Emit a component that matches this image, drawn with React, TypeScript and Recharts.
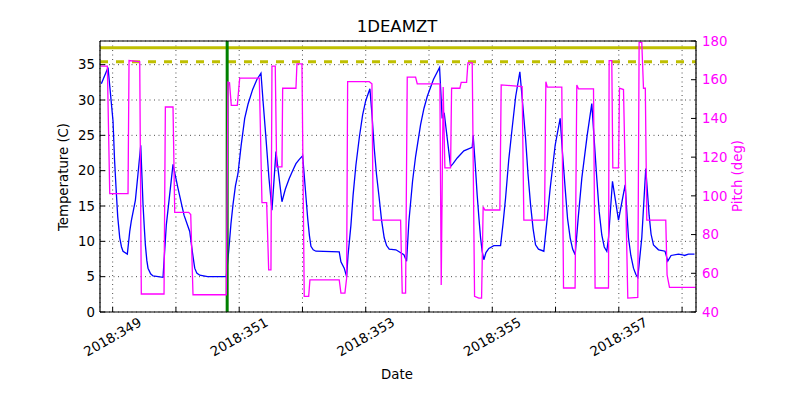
import {
  CartesianGrid,
  ComposedChart,
  Line,
  ReferenceLine,
  XAxis,
  YAxis,
} from "recharts";

// Temperature trace (day of year 2018, deg C).
const TEMP_DAY = [
  348.821, 348.927, 349.006, 349.03, 349.054, 349.08, 349.112, 349.14, 349.164, 349.232,
  349.27, 349.295, 349.359, 349.4, 349.444, 349.48, 349.5, 349.517, 349.54, 349.559,
  349.6, 349.638, 349.796, 349.848, 349.954, 350.033, 350.128, 350.218, 350.26, 350.297,
  350.33, 350.376, 350.5, 350.796, 350.834, 350.87, 350.902, 350.94, 350.981, 351.03,
  351.087, 351.139, 351.213, 351.28, 351.344, 351.38, 351.423, 351.47, 351.518, 351.581,
  351.676, 351.73, 351.791, 351.85, 351.897, 351.95, 352.003, 352.04, 352.082, 352.11,
  352.134, 352.17, 352.213, 352.581, 352.608, 352.66, 352.698, 352.72, 352.766, 352.8,
  352.845, 352.9, 352.951, 353.0, 353.066, 353.1, 353.134, 353.17, 353.213, 353.25,
  353.292, 353.33, 353.371, 353.477, 353.603, 353.646, 353.682, 353.74, 353.788, 353.867,
  353.92, 353.972, 354.07, 354.167, 354.208, 354.24, 354.341, 354.38, 354.446, 354.551,
  354.683, 354.698, 354.73, 354.761, 354.79, 354.815, 354.84, 354.867, 354.9, 354.946,
  355.025, 355.131, 355.17, 355.21, 355.26, 355.314, 355.37, 355.436, 355.48, 355.526,
  355.565, 355.605, 355.645, 355.684, 355.73, 355.815, 355.86, 355.915, 355.994, 356.073,
  356.11, 356.152, 356.19, 356.231, 356.27, 356.31, 356.36, 356.415, 356.5, 356.573,
  356.61, 356.652, 356.69, 356.731, 356.77, 356.81, 356.837, 356.9, 356.995, 357.1,
  357.153, 357.19, 357.232, 357.27, 357.3, 357.363, 357.426, 357.479, 357.51, 357.548,
  357.627, 357.731, 357.774, 357.826, 357.943, 358.006, 358.038, 358.101, 358.196,
];
const TEMP_C = [
  32.3, 34.6, 27.0, 21.5, 17.5, 13.5, 10.5, 9.2, 8.6, 8.2,
  11.4, 12.9, 15.8, 19.5, 23.6, 15.2, 12.0, 9.5, 7.3, 6.2,
  5.4, 5.1, 4.9, 12.3, 20.9, 17.5, 13.7, 11.4, 8.5, 6.2,
  5.5, 5.2, 5.0, 5.0, 8.6, 12.5, 15.2, 17.8, 19.6, 23.5,
  27.4, 29.4, 31.5, 32.9, 33.8, 29.5, 24.6, 19.0, 14.4, 22.7,
  15.6, 17.4, 18.9, 20.1, 21.0, 21.6, 22.1, 18.0, 13.3, 10.8,
  9.3, 8.8, 8.6, 8.5, 7.1, 6.2, 5.0, 8.0, 12.3, 16.5,
  20.8, 24.8, 27.9, 29.9, 31.6, 27.8, 23.2, 19.5, 16.1, 13.0,
  10.5, 9.4, 8.9, 8.8, 8.1, 7.2, 12.8, 18.5, 22.0, 26.5,
  28.8, 30.5, 32.9, 34.6, 27.4, 28.2, 20.6, 21.0, 21.8, 22.8,
  23.3, 25.0, 21.0, 16.6, 13.2, 10.5, 8.6, 7.4, 8.4, 9.0,
  9.4, 9.4, 12.5, 16.1, 21.5, 26.0, 30.5, 34.0, 29.5, 24.6,
  19.5, 15.2, 11.8, 9.5, 8.9, 8.6, 12.5, 17.5, 23.6, 27.4,
  22.5, 17.5, 13.2, 10.5, 8.9, 8.1, 13.5, 18.9, 25.0, 29.5,
  24.5, 18.9, 14.2, 10.9, 9.2, 8.6, 10.5, 18.5, 13.0, 18.0,
  10.5, 8.0, 6.2, 5.3, 4.9, 10.5, 20.3, 13.7, 11.0, 9.5,
  8.8, 8.6, 7.2, 8.0, 8.2, 8.1, 8.0, 8.2, 8.2,
];

// Pitch trace (deg), corners of the stepped attitude profile.
const PITCH_DAY = [
  348.812, 348.916, 348.954, 349.243, 349.259, 349.428, 349.453, 349.812, 349.833, 349.954,
  349.981, 350.202, 350.234, 350.27, 350.796, 350.823, 350.847, 350.875, 350.97, 351.008,
  351.318, 351.36, 351.434, 351.466, 351.502, 351.518, 351.57, 351.592, 351.676, 351.687,
  351.897, 351.913, 351.992, 352.028, 352.098, 352.118, 352.581, 352.608, 352.671, 352.698,
  352.714, 353.055, 353.098, 353.118, 353.551, 353.577, 353.63, 353.656, 353.788, 353.814,
  354.172, 354.193, 354.224, 354.251, 354.341, 354.357, 354.488, 354.509, 354.594, 354.615,
  354.683, 354.72, 354.788, 354.831, 354.856, 354.883, 355.12, 355.141, 355.472, 355.499,
  355.826, 355.847, 355.87, 356.099, 356.126, 356.309, 356.336, 356.363, 356.6, 356.625,
  356.837, 356.847, 356.889, 356.905, 356.995, 357.011, 357.074, 357.142, 357.3, 357.321,
  357.363, 357.39, 357.419, 357.442, 357.742, 357.763, 357.801, 358.216,
];
const PITCH_DEG = [
  167.0, 167.0, 101.2, 101.2, 169.9, 169.3, 49.3, 49.3, 145.9, 145.9,
  91.5, 91.5, 90.4, 48.9, 48.9, 158.7, 158.4, 146.7, 146.7, 160.8,
  160.8, 96.5, 96.5, 61.8, 61.8, 167.0, 167.0, 115.0, 115.0, 155.6,
  155.6, 168.2, 168.2, 48.1, 48.1, 56.6, 56.6, 49.8, 49.8, 57.5,
  159.0, 159.0, 157.9, 87.5, 87.5, 49.8, 49.8, 161.3, 161.3, 157.9,
  157.9, 54.0, 156.2, 114.5, 114.5, 155.6, 155.6, 158.6, 158.6, 168.7,
  168.7, 48.1, 47.2, 47.2, 94.4, 92.7, 92.7, 157.3, 156.5, 87.5,
  87.5, 159.0, 156.2, 156.2, 52.4, 52.4, 157.3, 155.3, 155.3, 52.4,
  52.4, 169.9, 169.9, 114.5, 114.5, 155.6, 154.9, 47.2, 47.6, 179.3,
  179.3, 155.6, 155.6, 87.5, 87.5, 59.2, 52.7, 52.7,
];

const DAY_TICKS = [349, 350, 351, 352, 353, 354, 355, 356, 357, 358];
const TEMP_TICKS = [0, 5, 10, 15, 20, 25, 30, 35];
const PITCH_TICKS = [40, 60, 80, 100, 120, 140, 160, 180];

const TEMP_LIMIT = 37.4;
const TEMP_CAUTION = 35.4;
const MARK_DAY = 350.81;

const tempData = TEMP_DAY.map((day, i) => ({ day, temp: TEMP_C[i] }));
const pitchData = PITCH_DAY.map((day, i) => ({ day, pitch: PITCH_DEG[i] }));

const FONT = "DejaVu Sans";
const TICK_FONT = 13.3;

function DateTick(props: any) {
  const { x, y, payload } = props;
  if (payload.value % 2 === 0) return null;
  return (
    <text
      x={x}
      y={y}
      textAnchor="middle"
      dominantBaseline="central"
      transform={`rotate(-30 ${x} ${y})`}
      fontSize={TICK_FONT}
      fontFamily={FONT}
      fill="#000"
    >
      {`2018:${payload.value}`}
    </text>
  );
}

const textBase: React.CSSProperties = {
  position: "absolute",
  fontFamily: FONT,
  whiteSpace: "nowrap",
  lineHeight: 1,
};

export default function App() {
  return (
    <div style={{ position: "absolute", left: 0, top: 0, width: 800, height: 400, background: "#fff" }}>
      <ComposedChart
        width={800}
        height={400}
        margin={{ top: 40, right: 40, bottom: 28, left: 40 }}
        style={{ fontFamily: FONT }}
      >
        <CartesianGrid xAxisId="bottom" yAxisId="temp" stroke="#000" strokeDasharray="1 3.5" strokeWidth={0.7} />
        <XAxis
          xAxisId="bottom"
          dataKey="day"
          type="number"
          domain={[348.8, 358.22]}
          allowDataOverflow
          ticks={DAY_TICKS}
          interval={0}
          height={60}
          tickSize={-5}
          tickMargin={30}
          tick={<DateTick />}
          axisLine={{ stroke: "#000", strokeWidth: 1.2 }}
          tickLine={{ stroke: "#000" }}
        />
        <XAxis
          xAxisId="top"
          orientation="top"
          dataKey="day"
          type="number"
          domain={[348.8, 358.22]}
          allowDataOverflow
          ticks={DAY_TICKS}
          interval={0}
          height={1}
          tickSize={-5}
          tick={false}
          axisLine={{ stroke: "#000", strokeWidth: 1.2 }}
          tickLine={{ stroke: "#000" }}
        />
        <YAxis
          yAxisId="temp"
          orientation="left"
          domain={[0, 38.35]}
          allowDataOverflow
          ticks={TEMP_TICKS}
          interval={0}
          width={60}
          tickSize={-5}
          tickMargin={10}
          tick={{ fill: "#000", fontSize: TICK_FONT, fontFamily: FONT }}
          axisLine={{ stroke: "#000", strokeWidth: 1.2 }}
          tickLine={{ stroke: "#000" }}
        />
        <YAxis
          yAxisId="pitch"
          orientation="right"
          domain={[40, 180]}
          allowDataOverflow
          ticks={PITCH_TICKS}
          interval={0}
          width={64}
          tickSize={-5}
          tickMargin={11}
          tick={{ fill: "#ff00ff", fontSize: TICK_FONT, fontFamily: FONT, textAnchor: "start" }}
          axisLine={{ stroke: "#000", strokeWidth: 1.2 }}
          tickLine={{ stroke: "#000" }}
        />
        <Line
          xAxisId="bottom"
          yAxisId="temp"
          data={tempData}
          dataKey="temp"
          type="linear"
          stroke="#0000ff"
          strokeWidth={1.3}
          dot={false}
          isAnimationActive={false}
        />
        <ReferenceLine xAxisId="bottom" yAxisId="temp" y={TEMP_LIMIT} stroke="#bfbf00" strokeWidth={3} />
        <ReferenceLine
          xAxisId="bottom"
          yAxisId="temp"
          y={TEMP_CAUTION}
          stroke="#bfbf00"
          strokeWidth={3}
          strokeDasharray="8 8"
        />
        <ReferenceLine xAxisId="bottom" yAxisId="temp" x={MARK_DAY} stroke="#008000" strokeWidth={3} />
        <Line
          xAxisId="bottom"
          yAxisId="pitch"
          data={pitchData}
          dataKey="pitch"
          type="linear"
          stroke="#ff00ff"
          strokeWidth={1.3}
          dot={false}
          isAnimationActive={false}
        />
      </ComposedChart>
      <div style={{ ...textBase, left: 397, top: 27, fontSize: 16.5, transform: "translate(-50%, -50%)" }}>1DEAMZT</div>
      <div style={{ ...textBase, left: 397, top: 375, fontSize: TICK_FONT, transform: "translate(-50%, -50%)" }}>Date</div>
      <div
        style={{
          ...textBase,
          left: 63.5,
          top: 177,
          fontSize: TICK_FONT,
          transform: "translate(-50%, -50%) rotate(-90deg)",
        }}
      >
        Temperature (C)
      </div>
      <div
        style={{
          ...textBase,
          left: 737.5,
          top: 176,
          fontSize: TICK_FONT,
          color: "#ff00ff",
          transform: "translate(-50%, -50%) rotate(-90deg)",
        }}
      >
        Pitch (deg)
      </div>
    </div>
  );
}
